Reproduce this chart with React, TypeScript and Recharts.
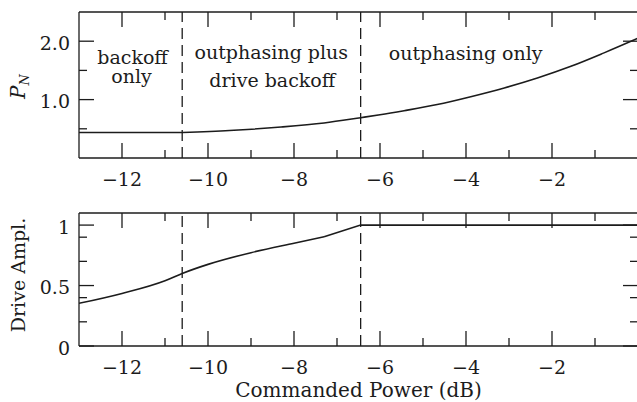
import React from 'react';
import { LineChart, Line, XAxis, YAxis, ReferenceLine, ReferenceDot } from 'recharts';

// ---- data ----
const topPower = [-13, -10.6, -9.5, -8.3, -7.3, -6.45, -6, -5.44, -4.67, -3.89, -3.11, -2.34, -1.56, -0.79, 0];
const topPN = [0.436, 0.436, 0.47, 0.53, 0.6, 0.69, 0.74, 0.81, 0.915, 1.05, 1.2, 1.37, 1.57, 1.8, 2.05];
const bottomPower = [-13, -12, -11, -10.6, -10, -9, -8, -7.3, -6.45, -3, 0];
const bottomDrive = [0.353, 0.435, 0.54, 0.6, 0.675, 0.772, 0.85, 0.903, 1.0, 1.0, 1.0];
const regionBounds = [-10.6, -6.45];
const drivePinch = -7.3;
const xTicks = [-12, -11, -10, -9, -8, -7, -6, -5, -4, -3, -2, -1];
const xMajor = [-12, -10, -8, -6, -4, -2];
const topYTicks = [0.5, 1, 1.5, 2];
const topYMajor = [1, 2];
const topYLabels = ['1.0', '2.0'];
const bottomYTicks = [0, 0.2, 0.4, 0.5, 0.7, 0.9, 1];
const bottomYMajor = [0, 0.5, 1];
const bottomYLabels = ['0', '0.5', '1'];
const regionTexts = [
  { x: -11.754, y: 1.618, text: 'backoff' },
  { x: -11.777, y: 1.276, text: 'only' },
  { x: -8.527, y: 1.69, text: 'outphasing plus' },
  { x: -8.504, y: 1.221, text: 'drive backoff' },
  { x: -4.007, y: 1.678, text: 'outphasing only' },
];

const topData = topPower.map((p, i) => ({
  p,
  flat: p <= regionBounds[0] ? topPN[i] : null,
  rise: p >= regionBounds[0] ? topPN[i] : null,
}));
const bottomData = bottomPower.map((p, i) => ({
  p,
  curve: p <= drivePinch ? bottomDrive[i] : null,
  lin: p >= drivePinch ? bottomDrive[i] : null,
}));

const FONT = "'DejaVu Serif', serif";
const INK = '#1c1c1c';
const FS = 19;
const MAJOR = 15;
const MINOR = 8;
const AXW = 1.3;

const fmtX = (v: number) => (v < 0 ? '\u2212' + Math.abs(v) : String(v));

const XTickBottom = (props: any) => {
  const { x, y, payload } = props;
  const v = payload.value;
  const major = xMajor.includes(v);
  return (
    <g>
      <line x1={x} x2={x} y1={y} y2={y - (major ? MAJOR : MINOR)} stroke={INK} strokeWidth={AXW} />
      {major && (
        <text x={x} y={y + 28} textAnchor="middle" fontFamily={FONT} fontSize={FS} fill={INK}>
          {fmtX(v)}
        </text>
      )}
    </g>
  );
};

const XTickTop = (props: any) => {
  const { x, y, payload } = props;
  const major = xMajor.includes(payload.value);
  return <line x1={x} x2={x} y1={y} y2={y + (major ? MAJOR : MINOR)} stroke={INK} strokeWidth={AXW} />;
};

const makeYTickLeft = (majors: number[], labels: string[]) => (props: any) => {
  const { x, y, payload } = props;
  const idx = majors.indexOf(payload.value);
  const major = idx >= 0;
  return (
    <g>
      <line x1={x} x2={x + (major ? MAJOR : MINOR)} y1={y} y2={y} stroke={INK} strokeWidth={AXW} />
      {major && (
        <text x={x - 9} y={y + 8.5} textAnchor="end" fontFamily={FONT} fontSize={FS} fill={INK}>
          {labels[idx]}
        </text>
      )}
    </g>
  );
};

const makeYTickRight = (majors: number[]) => (props: any) => {
  const { x, y, payload } = props;
  const major = majors.includes(payload.value);
  return <line x1={x} x2={x - (major ? MAJOR : MINOR)} y1={y} y2={y} stroke={INK} strokeWidth={AXW} />;
};

const TopYTickLeft = makeYTickLeft(topYMajor, topYLabels);
const TopYTickRight = makeYTickRight(topYMajor);
const BotYTickLeft = makeYTickLeft(bottomYMajor, bottomYLabels);
const BotYTickRight = makeYTickRight(bottomYMajor);

const axisLine = { stroke: INK, strokeWidth: AXW };

const PNLabel = (props: any) => {
  const vb = props.viewBox;
  const cx = 25;
  const cy = vb.y + vb.height / 2 + 1.5;
  return (
    <text
      x={cx}
      y={cy}
      textAnchor="middle"
      transform={`rotate(-90, ${cx}, ${cy})`}
      fontFamily={FONT}
      fontSize={20}
      fill={INK}
      fontStyle="italic"
    >
      <tspan>P</tspan>
      <tspan fontSize={13} dy={4}>N</tspan>
    </text>
  );
};

const DriveLabel = (props: any) => {
  const vb = props.viewBox;
  const cx = 25;
  const cy = vb.y + vb.height / 2 - 4.5;
  return (
    <text
      x={cx}
      y={cy}
      textAnchor="middle"
      transform={`rotate(-90, ${cx}, ${cy})`}
      fontFamily={FONT}
      fontSize={FS}
      fill={INK}
    >
      Drive Ampl.
    </text>
  );
};

const XTitle = (props: any) => {
  const vb = props.viewBox;
  return (
    <text x={vb.x + vb.width / 2} y={vb.y + 51} textAnchor="middle" fontFamily={FONT} fontSize={20} fill={INK}>
      Commanded Power (dB)
    </text>
  );
};

const makeRegionText = (t: string) => (props: any) => {
  const vb = props.viewBox;
  return (
    <text x={vb.x} y={vb.y} textAnchor="middle" fontFamily={FONT} fontSize={FS} fill={INK}>
      {t}
    </text>
  );
};

const commonX = {
  dataKey: 'p',
  type: 'number' as const,
  domain: [-13, 0],
  ticks: xTicks,
  interval: 0 as const,
  allowDataOverflow: true,
  tickSize: 0,
  tickMargin: 0,
  tickLine: false,
  axisLine,
};

export default function App() {
  return (
    <div style={{ position: 'absolute', left: 0, top: 0, width: 637, height: 402, background: '#fff', overflow: 'hidden' }}>
      <div style={{ position: 'absolute', left: 0, top: 0 }}>
        <LineChart width={637} height={200} data={topData} margin={{ top: 11, right: -11, bottom: 0, left: 0 }}>
          <XAxis xAxisId="b" {...commonX} orientation="bottom" height={42} tick={<XTickBottom />} />
          <XAxis xAxisId="t" {...commonX} orientation="top" height={1} tick={<XTickTop />} />
          <YAxis
            yAxisId="l"
            type="number"
            domain={[0, 2.5]}
            ticks={topYTicks}
            interval={0}
            allowDataOverflow
            orientation="left"
            width={79}
            tickSize={0}
            tickMargin={0}
            tickLine={false}
            axisLine={axisLine}
            tick={<TopYTickLeft />}
            label={PNLabel}
          />
          <YAxis
            yAxisId="r"
            type="number"
            domain={[0, 2.5]}
            ticks={topYTicks}
            interval={0}
            allowDataOverflow
            orientation="right"
            width={10}
            tickSize={0}
            tickMargin={0}
            tickLine={false}
            axisLine={axisLine}
            tick={<TopYTickRight />}
          />
          {regionBounds.map((b) => (
            <ReferenceLine key={b} x={b} xAxisId="b" yAxisId="l" stroke={INK} strokeWidth={1.3} strokeDasharray="11 6" />
          ))}
          {regionTexts.map((r) => (
            <ReferenceDot
              key={r.text}
              x={r.x}
              y={r.y}
              xAxisId="b"
              yAxisId="l"
              r={0}
              fill="none"
              stroke="none"
              label={makeRegionText(r.text)}
            />
          ))}
          <Line xAxisId="b" yAxisId="l" dataKey="flat" type="linear" stroke={INK} strokeWidth={1.6} dot={false} isAnimationActive={false} />
          <Line xAxisId="b" yAxisId="l" dataKey="rise" type="monotone" stroke={INK} strokeWidth={1.6} dot={false} isAnimationActive={false} />
        </LineChart>
      </div>
      <div style={{ position: 'absolute', left: 0, top: 200 }}>
        <LineChart width={637} height={202} data={bottomData} margin={{ top: 12, right: -11, bottom: 0, left: 0 }}>
          <XAxis xAxisId="b" {...commonX} orientation="bottom" height={56} tick={<XTickBottom />} label={XTitle} />
          <XAxis xAxisId="t" {...commonX} orientation="top" height={1} tick={<XTickTop />} />
          <YAxis
            yAxisId="l"
            type="number"
            domain={[0, 1.1]}
            ticks={bottomYTicks}
            interval={0}
            allowDataOverflow
            orientation="left"
            width={79}
            tickSize={0}
            tickMargin={0}
            tickLine={false}
            axisLine={axisLine}
            tick={<BotYTickLeft />}
            label={DriveLabel}
          />
          <YAxis
            yAxisId="r"
            type="number"
            domain={[0, 1.1]}
            ticks={bottomYTicks}
            interval={0}
            allowDataOverflow
            orientation="right"
            width={10}
            tickSize={0}
            tickMargin={0}
            tickLine={false}
            axisLine={axisLine}
            tick={<BotYTickRight />}
          />
          {regionBounds.map((b) => (
            <ReferenceLine key={b} x={b} xAxisId="b" yAxisId="l" stroke={INK} strokeWidth={1.3} strokeDasharray="11 6" />
          ))}
          <Line xAxisId="b" yAxisId="l" dataKey="curve" type="monotone" stroke={INK} strokeWidth={1.6} dot={false} isAnimationActive={false} />
          <Line xAxisId="b" yAxisId="l" dataKey="lin" type="linear" stroke={INK} strokeWidth={1.6} dot={false} isAnimationActive={false} />
        </LineChart>
      </div>
    </div>
  );
}
